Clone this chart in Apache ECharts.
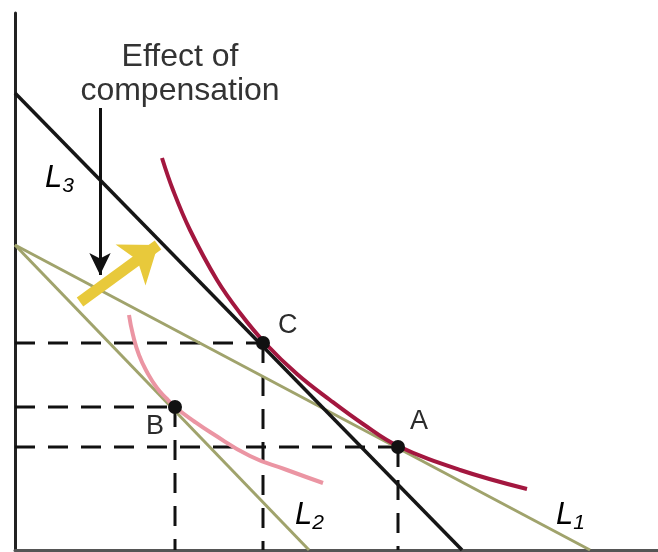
<!DOCTYPE html>
<html>
<head>
<meta charset="utf-8">
<script src="https://cdn.jsdelivr.net/npm/echarts@6/dist/echarts.min.js"></script>
</head>
<body style="margin:0;background:#fff;">
<div id="main" style="width: 658px;height:552px;"></div>
<script type="text/javascript">
    // budget lines (x, y) end points
    var budgetL1 = [[0, 305], [575, 0]];
    var budgetL2 = [[0, 305], [294, 0]];
    var budgetL3 = [[0, 457], [447, 0]];

    // indifference curves
    var highCurveX = [147, 158, 175, 202, 225, 250, 282, 315, 348, 383, 445, 512];
    var highCurveY = [392, 360, 320, 270, 237, 207, 176, 150, 126, 104, 80, 61];
    var lowCurveX = [114, 118, 124, 132, 142, 152, 160, 180, 195, 235, 272, 308];
    var lowCurveY = [235, 215, 195, 178, 162, 151, 143, 128, 118, 94, 80, 67];

    // points A, B, C
    var pointNames = ['A', 'B', 'C'];
    var pointX = [383, 160, 248];
    var pointY = [103, 143, 207];

    var textFont = '"Liberation Sans", Arial, sans-serif';
    var myChart = echarts.init(document.getElementById('main'));

    function zip(xs, ys) {
        return xs.map(function (x, i) { return [x, ys[i]]; });
    }

    var guideSeries = [];
    pointNames.forEach(function (name, i) {
        guideSeries.push({
            type: 'line', symbol: 'none', silent: true, z: 1,
            lineStyle: {color: '#111', width: 3, type: [20, 13]},
            data: [[0, pointY[i]], [pointX[i], pointY[i]]]
        });
        guideSeries.push({
            type: 'line', symbol: 'none', silent: true, z: 1,
            lineStyle: {color: '#111', width: 3, type: [20, 13]},
            data: [[pointX[i], pointY[i]], [pointX[i], 0]]
        });
    });

    // label placement next to each dot (right of the dot, shifted)
    var labelOffsets = {A: [0, -25], B: [-41, 20], C: [3, -17]};

    function lineLabel(n) {
        return {
            text: '{l|L}{s|' + n + '}',
            rich: {
                l: {fontSize: 31, fontStyle: 'italic', fontFamily: textFont, color: '#333'},
                s: {fontSize: 21, fontStyle: 'italic', fontFamily: textFont, color: '#333', padding: [16, 0, 0, 0]}
            }
        };
    }

    var option = {
        animation: false,
        grid: {left: 15, right: 0, top: 13, bottom: 2},
        xAxis: {
            type: 'value', min: 0, max: 643,
            axisLine: {show: true, lineStyle: {color: '#555', width: 3}},
            axisTick: {show: false}, axisLabel: {show: false}, splitLine: {show: false}
        },
        yAxis: {
            type: 'value', min: 0, max: 537,
            axisLine: {show: true, lineStyle: {color: '#222', width: 3}},
            axisTick: {show: false}, axisLabel: {show: false}, splitLine: {show: false}
        },
        series: guideSeries.concat([
            {
                type: 'line', symbol: 'none', z: 2,
                lineStyle: {color: '#a0a36c', width: 3},
                data: budgetL1
            },
            {
                type: 'line', symbol: 'none', z: 2,
                lineStyle: {color: '#a0a36c', width: 3},
                data: budgetL2
            },
            {
                type: 'line', symbol: 'none', z: 3,
                lineStyle: {color: '#161616', width: 3.5},
                data: budgetL3
            },
            {
                type: 'line', symbol: 'none', smooth: 0.4, z: 4,
                lineStyle: {color: '#a3173f', width: 4},
                data: zip(highCurveX, highCurveY)
            },
            {
                type: 'line', symbol: 'none', smooth: 0.5, z: 4,
                lineStyle: {color: '#eb95a3', width: 4},
                data: zip(lowCurveX, lowCurveY)
            },
            {
                type: 'line', data: [], z: 5,
                markLine: {
                    silent: true, animation: false,
                    symbol: ['none', 'arrow'],
                    label: {show: false},
                    emphasis: {disabled: true},
                    data: [
                        [{coord: [85, 442], lineStyle: {color: '#111', width: 3, type: 'solid'}},
                         {coord: [85, 275], symbol: 'arrow', symbolSize: [16, 22]}],
                        [{coord: [65, 248], lineStyle: {color: '#e8c93b', width: 11, type: 'solid'}},
                         {coord: [143, 305], symbol: 'arrow', symbolSize: [38, 34]}]
                    ]
                }
            },
            {
                type: 'scatter', z: 6,
                symbolSize: 14,
                itemStyle: {color: '#111', opacity: 1},
                label: {
                    show: true,
                    position: 'right',
                    formatter: function (p) { return p.name; },
                    fontSize: 27, color: '#2b2b2b', fontFamily: textFont,
                    textBorderWidth: 0
                },
                data: pointNames.map(function (name, i) {
                    return {
                        name: name, value: [pointX[i], pointY[i]],
                        label: {offset: labelOffsets[name]}
                    };
                })
            }
        ]),
        graphic: [
            {
                type: 'text', x: 180, y: 40,
                style: {
                    text: 'Effect of\ncompensation', align: 'center',
                    font: '32px ' + textFont, fill: '#333', lineHeight: 34
                }
            },
            {type: 'text', x: 45, y: 160, style: lineLabel(3)},
            {type: 'text', x: 295, y: 497, style: lineLabel(2)},
            {type: 'text', x: 556, y: 497, style: lineLabel(1)}
        ]
    };
    myChart.setOption(option);
</script>
</body>
</html>
